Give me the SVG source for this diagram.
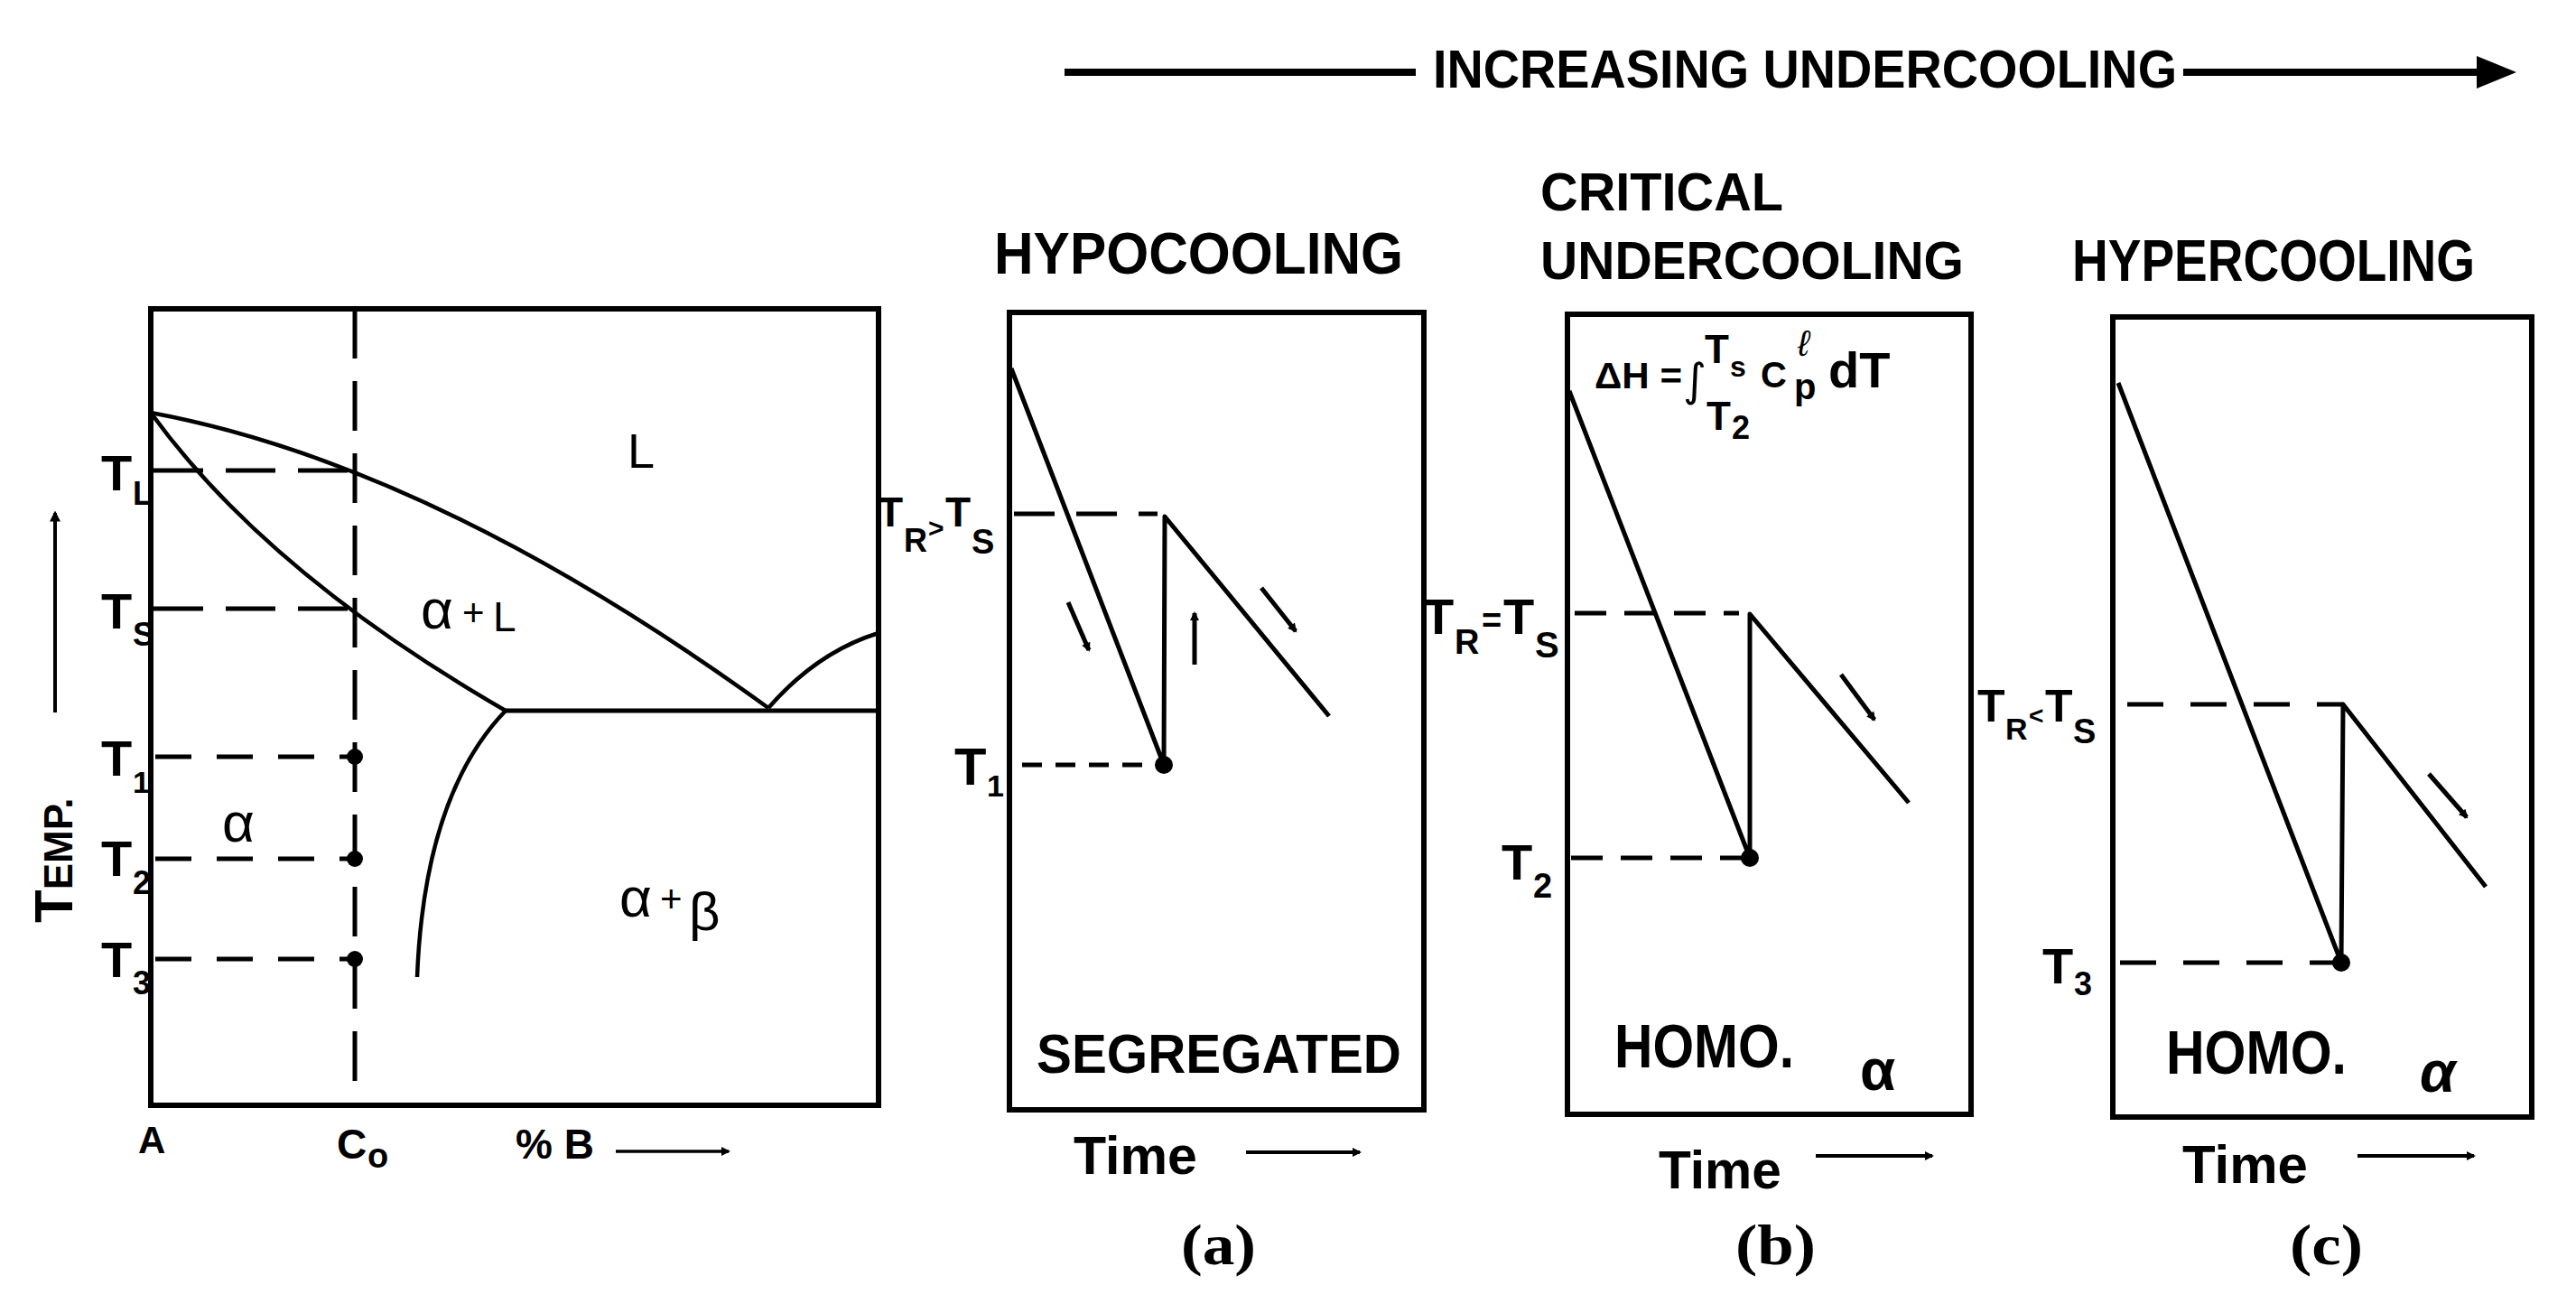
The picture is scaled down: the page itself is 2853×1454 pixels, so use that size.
<svg xmlns="http://www.w3.org/2000/svg" width="2853" height="1454" viewBox="0 0 2853 1454">
<defs>
<marker id="ah" viewBox="0 0 10 10" refX="8" refY="5" markerWidth="16" markerHeight="12" markerUnits="userSpaceOnUse" orient="auto"><path d="M0,0 L10,5 L0,10 z" fill="#000"/></marker>
<marker id="ahs" viewBox="0 0 10 10" refX="8" refY="5" markerWidth="12" markerHeight="10" markerUnits="userSpaceOnUse" orient="auto"><path d="M0,0 L10,5 L0,10 z" fill="#000"/></marker>
<style>
.box{fill:none;stroke:#000;stroke-width:6}
.ln{fill:none;stroke:#000;stroke-width:5;stroke-linejoin:round}
.cv{fill:none;stroke:#000;stroke-width:4.5}
.dsh{fill:none;stroke:#000;stroke-width:5}
.arr{fill:none;stroke:#000;stroke-width:5}
.t{font-family:"Liberation Sans",Arial,sans-serif;font-weight:bold;fill:#000}
.g{font-family:"Liberation Sans",Arial,sans-serif;fill:#000}
.s{font-family:"Liberation Serif","Times New Roman",serif;font-weight:bold;fill:#000}
</style>
</defs>
<rect width="2853" height="1454" fill="#fff"/>

<g id="header">
<line x1="1179" y1="80" x2="1568" y2="80" stroke="#000" stroke-width="8"/>
<text class="t" x="1587" y="97" font-size="60" textLength="824" lengthAdjust="spacingAndGlyphs">INCREASING UNDERCOOLING</text>
<line x1="2418" y1="80" x2="2750" y2="80" stroke="#000" stroke-width="8"/>
<polygon points="2743,62 2787,80 2743,98" fill="#000"/>
</g>

<g id="phase-diagram">
<rect class="box" x="167" y="342" width="806" height="882"/>
<line class="dsh" x1="393" y1="342" x2="393" y2="1224" stroke-dasharray="55 25"/>
<path class="cv" d="M167,457 Q480,515 851,784"/>
<path class="cv" d="M167,457 Q295,634 560,787"/>
<path class="ln" d="M560,787 H973"/>
<path class="cv" d="M851,784 Q905,722 973,701"/>
<path class="cv" d="M560,787 Q470,880 462,1082"/>
<g stroke-dasharray="55 25">
<line class="dsh" x1="170" y1="521" x2="393" y2="521"/>
<line class="dsh" x1="170" y1="674" x2="393" y2="674"/>
</g>
<g stroke-dasharray="40 28">
<line class="dsh" x1="172" y1="838" x2="393" y2="838"/>
<line class="dsh" x1="172" y1="951" x2="393" y2="951"/>
<line class="dsh" x1="172" y1="1062" x2="393" y2="1062"/>
</g>
<circle cx="393" cy="838" r="9"/>
<circle cx="393" cy="951" r="9"/>
<circle cx="393" cy="1062" r="9"/>
<text class="t" font-size="56" x="112" y="543">T<tspan x="147" y="559" font-size="36">L</tspan></text>
<text class="t" font-size="56" x="112" y="696">T<tspan x="147" y="715" font-size="36">S</tspan></text>
<text class="t" font-size="56" x="112" y="859">T<tspan x="147" y="878" font-size="34">1</tspan></text>
<text class="t" font-size="56" x="112" y="970">T<tspan x="147" y="990" font-size="36">2</tspan></text>
<text class="t" font-size="56" x="112" y="1082">T<tspan x="147" y="1101" font-size="36">3</tspan></text>
<text class="t" transform="translate(80,1022) rotate(-90)"><tspan font-size="60">T</tspan><tspan font-size="44">EMP.</tspan></text>
<line x1="61" y1="789" x2="61" y2="568" stroke="#000" stroke-width="4" marker-end="url(#ah)"/>
<text class="g" font-size="54" x="695" y="518">L</text>
<text class="g" font-size="62" x="466" y="696">α<tspan x="512" y="693" font-size="42">+</tspan><tspan x="546" y="699" font-size="46">L</tspan></text>
<text class="g" font-size="62" x="246" y="932">α</text>
<text class="g" font-size="62" x="686" y="1015">α<tspan x="731" y="1010" font-size="42">+</tspan><tspan x="763" y="1030" font-size="60">β</tspan></text>
<text class="t" font-size="42" x="153" y="1277">A</text>
<text class="t" font-size="46" x="373" y="1283">C<tspan x="407" y="1293" font-size="38">o</tspan></text>
<text class="t" font-size="46" x="571" y="1283">% B</text>
<line x1="682" y1="1275" x2="807" y2="1275" stroke="#000" stroke-width="3.5" marker-end="url(#ahs)"/>
</g>

<g id="panel-a">
<text class="t" x="1101" y="303" font-size="64" textLength="453" lengthAdjust="spacingAndGlyphs">HYPOCOOLING</text>
<rect class="box" x="1118" y="346" width="459" height="883"/>
<polyline class="ln" points="1120,408 1289,847 1290,572 1472,793"/>
<line class="dsh" x1="1123" y1="569" x2="1282" y2="569" stroke-dasharray="45 24"/>
<line class="dsh" x1="1132" y1="847" x2="1289" y2="847" stroke-dasharray="22 15"/>
<circle cx="1289" cy="847" r="10"/>
<text class="t" font-size="46" x="972" y="583">T<tspan x="1001" y="611" font-size="36">R</tspan><tspan x="1028" y="595" font-size="30">&gt;</tspan><tspan x="1047" y="583">T</tspan><tspan x="1076" y="613" font-size="38">S</tspan></text>
<text class="t" font-size="58" x="1057" y="869">T<tspan x="1093" y="882" font-size="34">1</tspan></text>
<text class="t" x="1148" y="1188" font-size="62" textLength="404" lengthAdjust="spacingAndGlyphs">SEGREGATED</text>
<text class="t" x="1189" y="1300" font-size="60" textLength="137" lengthAdjust="spacingAndGlyphs">Time</text>
<line x1="1380" y1="1276" x2="1506" y2="1276" stroke="#000" stroke-width="4" marker-end="url(#ahs)"/>
<text class="s" x="1308" y="1400" font-size="64" textLength="83" lengthAdjust="spacingAndGlyphs">(a)</text>
</g>

<g id="panel-b">
<text class="t" x="1706" y="233" font-size="60" textLength="269" lengthAdjust="spacingAndGlyphs">CRITICAL</text>
<text class="t" x="1706" y="309" font-size="60" textLength="469" lengthAdjust="spacingAndGlyphs">UNDERCOOLING</text>
<rect class="box" x="1736" y="348" width="447" height="886"/>
<polyline class="ln" points="1738,433 1938,950 1938,680 2114,889"/>
<line class="dsh" x1="1744" y1="679" x2="1926" y2="679" stroke-dasharray="35 20"/>
<line class="dsh" x1="1740" y1="950" x2="1936" y2="950" stroke-dasharray="35 20"/>
<circle cx="1938" cy="950" r="10"/>
<text class="t" font-size="40" x="1766" y="430"><tspan textLength="97" lengthAdjust="spacingAndGlyphs">ΔH =</tspan><tspan x="1864" y="438" font-size="50" font-weight="normal" font-family="DejaVu Sans, sans-serif">∫</tspan><tspan x="1888" y="402" font-size="44">T</tspan><tspan x="1916" y="417" font-size="32">s</tspan><tspan x="1890" y="476" font-size="44">T</tspan><tspan x="1918" y="486" font-size="36">2</tspan><tspan x="1950" y="429">C</tspan><tspan x="1991" y="394" font-size="40" font-weight="normal" font-style="italic">ℓ</tspan><tspan x="1987" y="442">p</tspan><tspan x="2025" y="429" font-size="56">dT</tspan></text>
<text class="t" font-size="56" x="1576" y="702">T<tspan x="1611" y="724" font-size="38">R</tspan><tspan x="1641" y="700" font-size="38">=</tspan><tspan x="1665" y="702">T</tspan><tspan x="1700" y="728" font-size="40">S</tspan></text>
<text class="t" font-size="56" x="1663" y="974">T<tspan x="1698" y="994" font-size="38">2</tspan></text>
<line class="arr" x1="2039" y1="747" x2="2076" y2="797" marker-end="url(#ahs)"/>
<text class="t" x="1788" y="1182" font-size="68" textLength="199" lengthAdjust="spacingAndGlyphs">HOMO.</text>
<text class="g" x="2060" y="1207" font-size="64" font-weight="bold">α</text>
<text class="t" x="1837" y="1316" font-size="60" textLength="136" lengthAdjust="spacingAndGlyphs">Time</text>
<line x1="2011" y1="1280" x2="2140" y2="1280" stroke="#000" stroke-width="4" marker-end="url(#ahs)"/>
<text class="s" x="1922" y="1400" font-size="64" textLength="89" lengthAdjust="spacingAndGlyphs">(b)</text>
</g>

<g id="panel-c">
<text class="t" x="2295" y="311" font-size="64" textLength="446" lengthAdjust="spacingAndGlyphs">HYPERCOOLING</text>
<rect class="box" x="2340" y="351" width="464" height="886"/>
<polyline class="ln" points="2346,424 2593,1066 2595,780 2753,982"/>
<line class="dsh" x1="2356" y1="780" x2="2595" y2="780" stroke-dasharray="40 30"/>
<line class="dsh" x1="2348" y1="1066" x2="2593" y2="1066" stroke-dasharray="40 30"/>
<circle cx="2593" cy="1066" r="10"/>
<text class="t" font-size="50" x="2190" y="799">T<tspan x="2221" y="819" font-size="34">R</tspan><tspan x="2247" y="802" font-size="28">&lt;</tspan><tspan x="2265" y="799">T</tspan><tspan x="2296" y="823" font-size="38">S</tspan></text>
<text class="t" font-size="56" x="2262" y="1089">T<tspan x="2297" y="1102" font-size="36">3</tspan></text>
<line class="arr" x1="2690" y1="857" x2="2732" y2="905" marker-end="url(#ahs)"/>
<text class="t" x="2399" y="1189" font-size="68" textLength="200" lengthAdjust="spacingAndGlyphs">HOMO.</text>
<text class="g" x="2680" y="1209" font-size="64" font-weight="bold" font-style="italic">α</text>
<text class="t" x="2417" y="1310" font-size="60" textLength="139" lengthAdjust="spacingAndGlyphs">Time</text>
<line x1="2611" y1="1280" x2="2740" y2="1280" stroke="#000" stroke-width="4" marker-end="url(#ahs)"/>
<text class="s" x="2536" y="1400" font-size="64" textLength="81" lengthAdjust="spacingAndGlyphs">(c)</text>
</g>

<g id="connectors">
<line class="arr" x1="1183" y1="667" x2="1206" y2="720" marker-end="url(#ahs)"/>
<line class="arr" x1="1323" y1="736" x2="1323" y2="679" marker-end="url(#ahs)"/>
<line class="arr" x1="1397" y1="651" x2="1435" y2="699" marker-end="url(#ahs)"/>
</g>
</svg>
